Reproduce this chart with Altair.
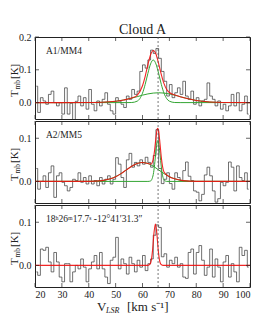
import altair as alt
import pandas as pd

FONT = "Liberation Serif"
W, H = 215, 82

# ---------------- data ----------------
velocity = [20.5 + i for i in range(80)]  # channel centres, km/s

spec_a1 = [0.05, -0.03, 0.015, 0.005, -0.005, 0.025, 0.035, 0.0, -0.01, 0.0,
           -0.035, 0.045, -0.035, -0.002, -0.055, 0.004, 0.02, -0.01, 0.015, -0.02,
           0.04, -0.005, -0.025, 0.005, -0.01, 0.01, 0.03, -0.005, -0.025, -0.035,
           0.015, 0.005, -0.005, -0.015, 0.02, 0.01, 0.04, 0.025, 0.035, 0.095,
           0.115, 0.105, 0.13, 0.16, 0.15, 0.165, 0.135, 0.095, 0.065, 0.02,
           0.055, 0.015, 0.03, 0.045, 0.025, 0.065, 0.02, 0.01, 0.035, -0.005,
           0.015, -0.01, 0.005, 0.01, 0.06, 0.02, 0.01, -0.01, 0.005, -0.02,
           -0.005, -0.025, -0.01, 0.025, -0.01, 0.03, -0.025, -0.005, 0.02, -0.035]

spec_a2 = [0.03, -0.018, 0.0, 0.013, -0.014, 0.02, 0.036, -0.037, 0.013, 0.02,
           -0.002, -0.01, -0.022, -0.014, 0.005, 0.002, 0.02, -0.002, 0.009, -0.006,
           0.013, -0.006, 0.002, -0.01, 0.009, -0.006, 0.005, 0.013, -0.006, 0.005,
           0.055, 0.04, 0.009, -0.014, 0.05, 0.065, 0.033, 0.044, 0.036, 0.05,
           0.04, 0.056, 0.044, 0.033, 0.06, 0.12, 0.03, -0.005, 0.005, 0.02,
           -0.005, -0.018, 0.02, 0.009, 0.002, 0.025, 0.045, 0.012, 0.002, -0.022,
           -0.025, -0.045, -0.03, 0.015, 0.033, 0.013, -0.022, -0.048, -0.04, -0.002,
           -0.01, -0.002, 0.045, 0.033, -0.022, 0.036, 0.009, 0.002, 0.02, -0.018]

spec_src = [-0.015, -0.023, 0.038, 0.035, 0.042, 0.008, -0.015, 0.03, 0.008, -0.027,
            -0.038, 0.004, 0.004, -0.038, -0.015, 0.0, -0.008, 0.015, -0.004, -0.038,
            -0.008, 0.008, 0.023, -0.008, 0.03, -0.008, -0.027, -0.042, 0.012, 0.019,
            0.065, -0.008, 0.015, 0.004, -0.02, 0.019, 0.004, -0.015, 0.012, -0.004,
            0.023, -0.012, 0.004, 0.015, 0.07, 0.094, 0.088, 0.02, 0.027, -0.004,
            0.012, 0.004, 0.019, -0.004, 0.004, -0.027, -0.03, 0.03, 0.038, -0.02,
            0.03, 0.046, 0.012, -0.023, -0.004, 0.038, -0.027, 0.015, -0.004, -0.038,
            0.008, 0.023, -0.027, 0.004, -0.015, -0.038, 0.042, 0.023, 0.035, -0.004]

# fitted curves
a1_broad_v = [20, 40, 45, 50, 53, 56, 58, 60, 62, 64, 66, 68, 70, 72, 74, 77, 80, 85, 90, 100]
a1_broad_t = [0, 0.0002, 0.001, 0.004, 0.008, 0.0137, 0.018, 0.0227, 0.0265, 0.029, 0.03,
              0.029, 0.0265, 0.0227, 0.018, 0.0117, 0.0065, 0.0018, 0.0003, 0]
a1_narrow_v = [20, 54, 56, 58, 60, 61, 62, 63, 64, 65, 66, 67, 68, 69, 70, 72, 74, 100]
a1_narrow_t = [0, 0, 0.0003, 0.0043, 0.0287, 0.0555, 0.089, 0.118, 0.13, 0.118, 0.089,
               0.0555, 0.0287, 0.0122, 0.0043, 0.0003, 0, 0]
a1_fit_v = [20, 40, 45, 50, 53, 56, 58, 60, 61, 62, 63, 64, 65, 66, 67, 68, 69, 70, 72, 74,
            77, 80, 85, 90, 100]
a1_fit_t = [0, 0.0002, 0.001, 0.004, 0.008, 0.014, 0.0223, 0.0514, 0.0802, 0.1155, 0.146,
            0.159, 0.148, 0.119, 0.0853, 0.0577, 0.0402, 0.0308, 0.023, 0.018, 0.0117,
            0.0065, 0.0018, 0.0003, 0]

a2_broad_v = [20, 40, 45, 48, 50, 52, 54, 56, 58, 60, 62, 64, 66, 68, 70, 72, 75, 80, 100]
a2_broad_t = [0, 0.0002, 0.0019, 0.006, 0.011, 0.018, 0.0267, 0.0352, 0.0416, 0.044,
              0.0416, 0.0352, 0.0267, 0.0181, 0.011, 0.006, 0.0019, 0.0002, 0]
a2_narrow_v = [20, 62, 63, 64, 64.5, 65, 65.5, 65.7, 66, 66.5, 67, 67.5, 68, 69, 100]
a2_narrow_t = [0, 0, 0.001, 0.016, 0.039, 0.07, 0.0927, 0.095, 0.09, 0.064, 0.0335,
               0.0129, 0.0036, 0, 0]
a2_fit_v = [20, 40, 45, 48, 50, 52, 54, 56, 58, 60, 62, 63, 64, 64.5, 65, 65.5, 65.7, 66,
            66.5, 67, 67.5, 68, 70, 72, 75, 80, 100]
a2_fit_t = [0, 0.0002, 0.0019, 0.006, 0.011, 0.018, 0.0267, 0.0352, 0.0416, 0.044, 0.0416,
            0.0398, 0.0512, 0.0722, 0.101, 0.1216, 0.123, 0.1167, 0.0885, 0.0558, 0.033,
            0.0217, 0.011, 0.006, 0.0019, 0.0002, 0]

src_fit_v = [20, 62, 62.8, 63.3, 63.8, 64.3, 64.8, 65.3, 65.8, 66.3, 66.8, 67.6, 100]
src_fit_t = [0, 0, 0.003, 0.013, 0.039, 0.077, 0.096, 0.077, 0.039, 0.013, 0.003, 0, 0]

v_ref = [65.8]
x_ticks = [20, 30, 40, 50, 60, 70, 80, 90, 100]
panel_names = ["A1/MM4", "A2/MM5", "18ʰ26ᵐ17.7ˢ -12°41′31.3″"]
title_text = "Cloud A"

INK = "#222"


# ---------------- helpers ----------------
def one(text):
    return pd.DataFrame({"label": [text]})


def panel(spec, greens, fit_v, fit_t, ydom, yticks, name, bottom=False, top=False):
    xs = alt.Scale(domain=[20, 100], nice=False, zero=False)
    ys = alt.Scale(domain=ydom, nice=False, zero=False)
    if bottom:
        xax = alt.Axis(values=x_ticks, ticks=False, domain=False, grid=False, title=None,
                       labelFont=FONT, labelFontSize=10, labelColor=INK, labelPadding=2)
    else:
        xax = None
    yax = alt.Axis(values=yticks, format=".1f", ticks=False, domain=False, grid=False,
                   title=None, labelFont=FONT, labelFontSize=10, labelColor=INK,
                   labelPadding=4)
    X = alt.X("v:Q", scale=xs, axis=xax)
    Y = alt.Y("T:Q", scale=ys, axis=yax)

    layers = []
    layers.append(alt.Chart(pd.DataFrame({"v": velocity, "T": spec}))
                  .mark_line(color="#333", strokeWidth=0.7, interpolate="step", clip=True)
                  .encode(x=X, y=Y))
    if greens:
        gdf = pd.concat([pd.DataFrame({"v": gv, "T": gt, "c": str(k)})
                         for k, (gv, gt) in enumerate(greens)])
        layers.append(alt.Chart(gdf).mark_line(color="#33a533", strokeWidth=1.0,
                                               interpolate="monotone", clip=True)
                      .encode(x=X, y=Y, detail="c:N"))
    layers.append(alt.Chart(pd.DataFrame({"v": fit_v, "T": fit_t}))
                  .mark_line(color="#f01010", strokeWidth=1.1, opacity=0.9,
                             interpolate="monotone", clip=True)
                  .encode(x=X, y=Y))
    layers.append(alt.Chart(pd.DataFrame({"v": v_ref}))
                  .mark_rule(color="#555", strokeWidth=0.8, strokeDash=[2, 2])
                  .encode(x=X))
    xt = pd.DataFrame({"v": x_ticks})
    yt = pd.DataFrame({"T": yticks})
    layers.append(alt.Chart(xt).mark_rule(color=INK, strokeWidth=0.7)
                  .encode(x=X, y=alt.value(H), y2=alt.value(H - 4)))
    layers.append(alt.Chart(xt).mark_rule(color=INK, strokeWidth=0.7)
                  .encode(x=X, y=alt.value(0), y2=alt.value(4)))
    layers.append(alt.Chart(yt).mark_rule(color=INK, strokeWidth=0.7)
                  .encode(y=Y, x=alt.value(0), x2=alt.value(4)))
    layers.append(alt.Chart(yt).mark_rule(color=INK, strokeWidth=0.7)
                  .encode(y=Y, x=alt.value(W), x2=alt.value(W - 4)))
    # panel label
    layers.append(alt.Chart(one(name)).mark_text(align="left", baseline="alphabetic",
                                                 font=FONT, fontSize=9.5, color=INK)
                  .encode(x=alt.value(11), y=alt.value(17), text="label:N"))
    # y title  T_mb [K]
    for txt, xx, yy, fs in [("T", -17.5, 60, 11), ("mb", -15, 52.5, 7.5), ("[K]", -17.5, 42, 11)]:
        layers.append(alt.Chart(one(txt)).mark_text(align="left", baseline="alphabetic",
                                                    angle=270, font=FONT, fontSize=fs,
                                                    color=INK)
                      .encode(x=alt.value(xx), y=alt.value(yy), text="label:N"))
    if top:
        layers.append(alt.Chart(one(title_text)).mark_text(align="center", baseline="alphabetic",
                                                           font=FONT, fontSize=14, color=INK)
                      .encode(x=alt.value(W / 2), y=alt.value(-3), text="label:N"))
    if bottom:
        pieces = [("V", 62, H + 24, 13, "normal"),
                  ("LSR", 71, H + 26, 8, "italic"),
                  ("[km s⁻¹]", 92, H + 24, 13, "normal")]
        for txt, xx, yy, fs, st in pieces:
            layers.append(alt.Chart(one(txt)).mark_text(align="left", baseline="alphabetic",
                                                        font=FONT, fontSize=fs, fontStyle=st,
                                                        color=INK)
                          .encode(x=alt.value(xx), y=alt.value(yy), text="label:N"))
    return alt.layer(*layers).properties(width=W, height=H)


p1 = panel(spec_a1, [(a1_broad_v, a1_broad_t), (a1_narrow_v, a1_narrow_t)], a1_fit_v, a1_fit_t,
           [-0.05, 0.2], [0.0, 0.1, 0.2], panel_names[0], top=True)
p2 = panel(spec_a2, [(a2_broad_v, a2_broad_t), (a2_narrow_v, a2_narrow_t)], a2_fit_v, a2_fit_t,
           [-0.05, 0.14], [0.0, 0.1], panel_names[1])
p3 = panel(spec_src, [], src_fit_v, src_fit_t,
           [-0.05, 0.14], [0.0, 0.1], panel_names[2], bottom=True)

chart = (alt.vconcat(p1, p2, p3, spacing=0)
         .properties(padding={"left": 0, "top": 14, "right": 0, "bottom": 0},
                     background="white")
         .configure_view(stroke=INK, strokeWidth=1))

chart.save("out.html", embed_options={"renderer": "svg", "actions": False})
